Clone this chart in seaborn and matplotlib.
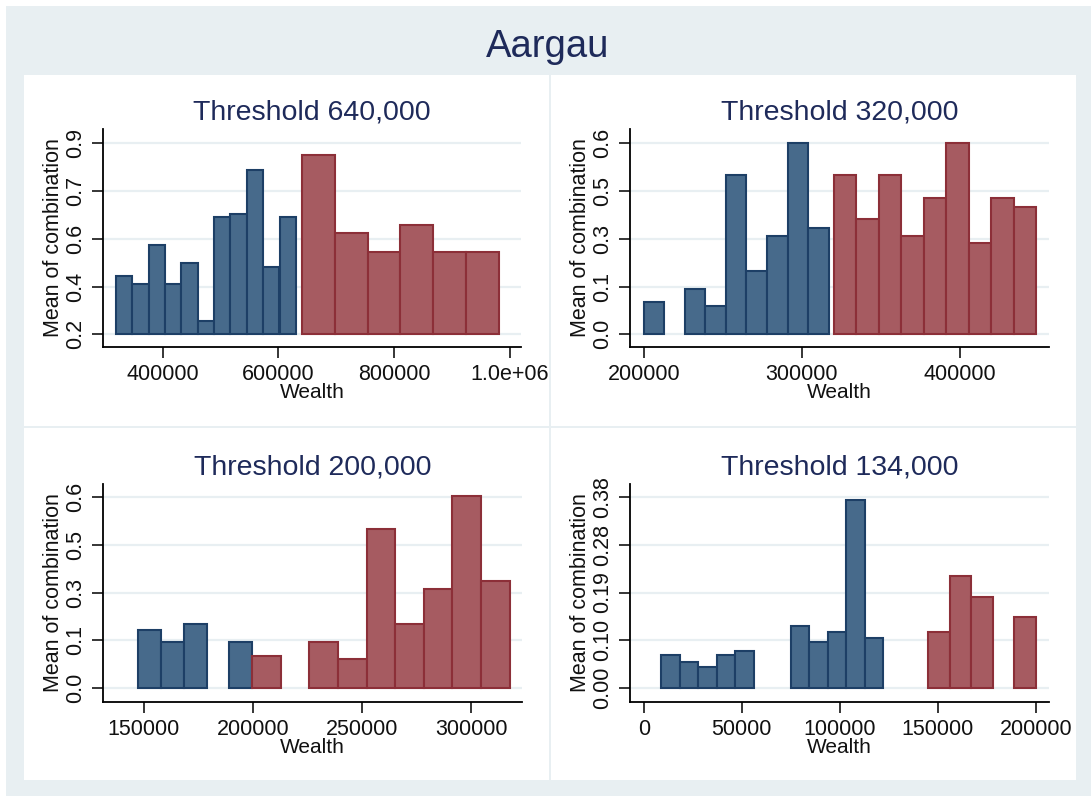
import numpy as np
import pandas as pd
import matplotlib
matplotlib.use("Agg")
import matplotlib.pyplot as plt
import seaborn as sns
from matplotlib.patches import Rectangle
from matplotlib.transforms import Bbox, TransformedBbox

# ---- data (bin centres in Wealth, bar = mean of combination) ----
p1_blue_x = [333000, 361500, 390000, 418000, 446500, 474500, 503000, 531000, 559500, 587500, 616000]
p1_blue_y = [0.412, 0.385, 0.529, 0.385, 0.463, 0.250, 0.630, 0.641, 0.803, 0.445, 0.630]
p1_red_x = [669300, 725800, 782400, 838900, 895500, 952000]
p1_red_y = [0.858, 0.573, 0.500, 0.601, 0.500, 0.500]

p2_blue_x = [206500, 232500, 245500, 258500, 271500, 284500, 297500, 310500]
p2_blue_y = [0.100, 0.142, 0.090, 0.500, 0.200, 0.310, 0.600, 0.335]
p2_red_x = [327400, 341600, 355800, 370100, 384300, 398500, 412800, 427000, 441200]
p2_red_y = [0.500, 0.363, 0.500, 0.310, 0.429, 0.600, 0.286, 0.429, 0.401]

p3_blue_x = [152800, 163200, 173600, 194400]
p3_blue_y = [0.181, 0.1445, 0.201, 0.1445]
p3_red_x = [206200, 232400, 245500, 258600, 271700, 284800, 297900, 311000]
p3_red_y = [0.100, 0.1445, 0.090, 0.500, 0.201, 0.310, 0.602, 0.335]

p4_blue_x = [13600, 23000, 32400, 41900, 51300, 79600, 89000, 98500, 108000, 117400]
p4_blue_y = [0.0663, 0.0511, 0.0424, 0.0663, 0.0730, 0.124, 0.0909, 0.112, 0.3747, 0.0995]
p4_red_x = [150400, 161500, 172500, 194500]
p4_red_y = [0.112, 0.2235, 0.1817, 0.142]

bin_widths = [(28300, 56500), (13000, 14200), (10400, 13100), (9450, 11000)]
baselines = [0.2, 0.0, 0.0, 0.0]

titles = ["Threshold 640,000", "Threshold 320,000", "Threshold 200,000", "Threshold 134,000"]
ytick_labels = [["0.2", "0.4", "0.6", "0.7", "0.9"],
                ["0.0", "0.1", "0.3", "0.5", "0.6"],
                ["0.0", "0.1", "0.3", "0.5", "0.6"],
                ["0.00", "0.10", "0.19", "0.28", "0.38"]]
ytick_ranges = [(0.2, 0.9), (0.0, 0.6), (0.0, 0.6), (0.0, 0.38)]
xticks = [[400000, 600000, 800000, 1000000],
          [200000, 300000, 400000],
          [150000, 200000, 250000, 300000],
          [0, 50000, 100000, 150000, 200000]]
xtick_labels = [["400000", "600000", "800000", "1.0e+06"],
                ["200000", "300000", "400000"],
                ["150000", "200000", "250000", "300000"],
                ["0", "50000", "100000", "150000", "200000"]]

frames = []
for i, (bx, by, rx, ry) in enumerate([(p1_blue_x, p1_blue_y, p1_red_x, p1_red_y),
                                       (p2_blue_x, p2_blue_y, p2_red_x, p2_red_y),
                                       (p3_blue_x, p3_blue_y, p3_red_x, p3_red_y),
                                       (p4_blue_x, p4_blue_y, p4_red_x, p4_red_y)]):
    frames.append(pd.DataFrame({"panel": i, "Wealth": bx, "mean": by, "side": "below"}))
    frames.append(pd.DataFrame({"panel": i, "Wealth": rx, "mean": ry, "side": "above"}))
df = pd.concat(frames, ignore_index=True)

sns.set_theme(style="white")
plt.rcParams["font.family"] = ["Liberation Sans", "DejaVu Sans"]

W, H = 1091, 796
fig = plt.figure(figsize=(W / 100, H / 100), dpi=100)
fig.patch.set_facecolor("white")

bg = "#e8eff2"
fig.add_artist(Rectangle((6 / W, 0), 1, 1 - 6 / H, transform=fig.transFigure,
                         facecolor=bg, edgecolor="none", zorder=-10))
panels_px = [(24, 75, 549, 426), (551, 75, 1076, 426), (24, 428, 549, 780), (551, 428, 1076, 780)]
for (x0, y0, x1, y1) in panels_px:
    fig.add_artist(Rectangle((x0 / W, 1 - y1 / H), (x1 - x0) / W, (y1 - y0) / H,
                             transform=fig.transFigure, facecolor="white",
                             edgecolor="none", zorder=-9))

fig.text(548 / W, 1 - 47 / H, "Aargau", ha="center", va="center",
         fontsize=27.5, color="#1e2a5a")

axes_px = [(103, 129, 521, 347), (630, 129, 1049, 347),
           (103, 484, 522, 702), (630, 484, 1049, 702)]
xlims = [(296900, 1019000), (191300, 456500), (131350, 323200), (-7000, 206600)]
ylims = [(0.1535, 0.9524), (-0.040, 0.645), (-0.0437, 0.641), (-0.0277, 0.4059)]

blue_fill, blue_edge = "#476a8b", "#1d3f66"
red_fill, red_edge = "#a65b61", "#8c2f38"
title_col = "#1e2a5a"

for i in range(4):
    x0, y0, x1, y1 = axes_px[i]
    ax = fig.add_axes([x0 / W, 1 - y1 / H, (x1 - x0) / W, (y1 - y0) / H])
    ax.set_facecolor("none")
    base = baselines[i]
    lo, hi = ytick_ranges[i]
    yt = np.linspace(lo, hi, 5)
    for t in yt:
        ax.axhline(t, color=bg, lw=1.6, zorder=0)
    sub = df[df["panel"] == i]
    for side, fc, ec, w in [("below", blue_fill, blue_edge, bin_widths[i][0]),
                            ("above", red_fill, red_edge, bin_widths[i][1])]:
        s = sub[sub["side"] == side]
        ax.bar(s["Wealth"], s["mean"] - base, width=w, bottom=base,
               color=fc, edgecolor=ec, linewidth=1.5, zorder=2)
    ax.set_xlim(*xlims[i])
    ax.set_ylim(*ylims[i])
    ax.set_yticks(yt)
    ax.set_yticklabels(ytick_labels[i], rotation=90, va="center")
    ax.set_xticks(xticks[i])
    ax.set_xticklabels(xtick_labels[i])
    ax.tick_params(axis="both", direction="out", length=8, width=1.1,
                   color="black", labelsize=15.5, labelcolor="#111111")
    ax.tick_params(axis="y", pad=4, left=True)
    ax.tick_params(axis="x", pad=4, bottom=True)
    for sp in ["top", "right"]:
        ax.spines[sp].set_visible(False)
    for sp in ["left", "bottom"]:
        ax.spines[sp].set_color("black")
        ax.spines[sp].set_linewidth(1.3)
    ax.set_xlabel("Wealth", fontsize=15, labelpad=-1, color="#111111")
    ax.set_ylabel("Mean of combination", fontsize=15.5, labelpad=1, color="#111111")
    ax.set_title(titles[i], fontsize=20.5, color=title_col, pad=7)
    # clip tick labels to the white panel like the original
    px0, py0, px1, py1 = panels_px[i]
    clip = TransformedBbox(Bbox.from_extents(px0 / W, 1 - py1 / H, px1 / W, 1 - py0 / H),
                           fig.transFigure)
    for lab in ax.get_xticklabels():
        lab.set_clip_box(clip)
        lab.set_clip_on(True)

fig.savefig("out.png", dpi=100)
